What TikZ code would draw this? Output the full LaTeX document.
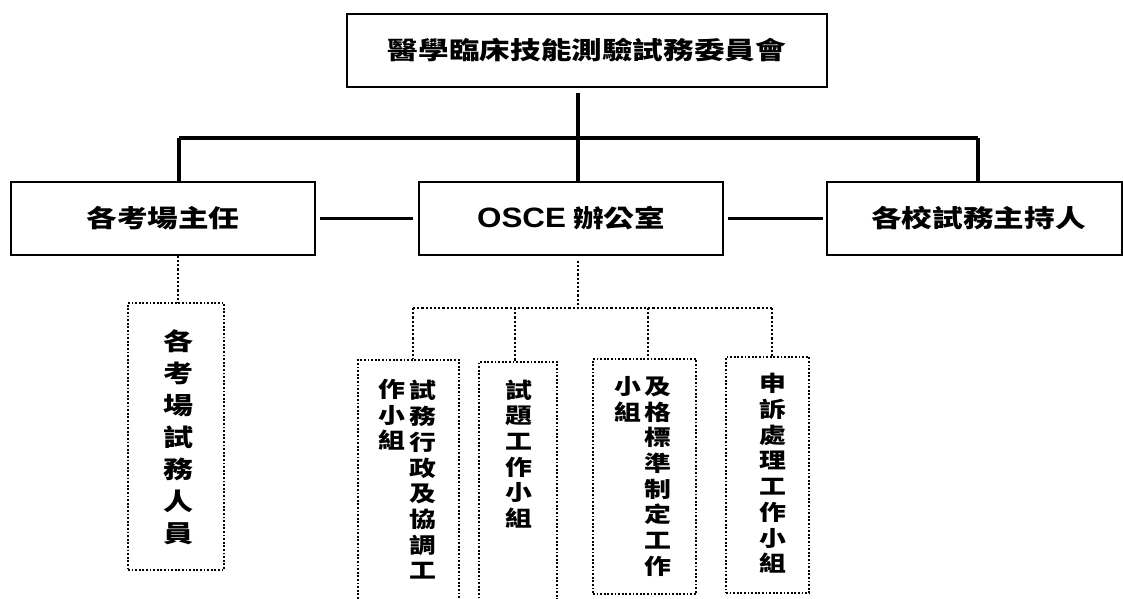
\documentclass[tikz,border=0pt]{standalone}
\usepackage{fontspec}
\setmainfont{Liberation Sans}
\newfontfamily\cjkA{Noto Sans CJK TC Black}[FakeStretch=1.25]
\newfontfamily\latA{Liberation Sans Bold}[FakeStretch=1.12]
\newcommand\fBig{\cjkA\fontsize{24.5}{28}\selectfont}
\newcommand\fVbig{\cjkA\fontsize{24}{32}\selectfont}
\newcommand\fVsm{\cjkA\fontsize{21.5}{25.7}\selectfont}
\tikzset{
  sbox/.style={draw, line width=1.6pt, inner sep=0pt, font=\fBig},
  dbox/.style={draw, line width=1.8pt, dash pattern=on 1.8pt off 1.8pt, inner sep=0pt},
  vbig/.style={align=center, inner sep=0pt, font=\fVbig},
  vsm/.style={align=center, inner sep=0pt, font=\fVsm},
  thickln/.style={line width=3.5pt},
  barln/.style={line width=4.5pt},
  dotln/.style={line width=2.2pt, dash pattern=on 2.2pt off 2pt},
}
\begin{document}
\begin{tikzpicture}[x=1pt,y=-1pt]
\useasboundingbox (0,0) rectangle (1123,598);
\fill[white] (0,0) rectangle (1123,598);
\clip (0,0) rectangle (1123,598);

% solid boxes
\node[sbox, minimum width=480, minimum height=73] (top) at (587,50.5) {醫學臨床技能測驗試務委員會};
\node[sbox, minimum width=304, minimum height=73] (left) at (163,218.5) {各考場主任};
\node[sbox, minimum width=304, minimum height=73] (off) at (571,218.5) {{\latA\fontsize{28}{30}\selectfont OSCE}\ 辦公室};
\node[sbox, minimum width=295, minimum height=73] (right) at (974.5,218.5) {\hspace*{8pt}各校試務主持人};

% junctions
\coordinate (j) at (578,138);
\coordinate (bl) at (179,138);
\coordinate (br) at (978,138);

\draw[thickln] ([yshift=-5pt]top.south -| j) -- (j);
\draw[barln] (bl) -- (br);
\draw[thickln] (bl) -- (bl |- left.north);
\draw[thickln] (j) -- (j |- off.north);
\draw[thickln] (br) -- (br |- right.north);

\draw[thickln, shorten <=4pt, shorten >=5pt] (left.east) -- (off.west);
\draw[thickln, shorten <=4pt, shorten >=3pt] (off.east) -- (right.west);

% dotted boxes
\node[dbox, minimum width=96, minimum height=267] (ld) at (176,436.5) {};
\node[dbox, minimum width=101, minimum height=245] (g1) at (408.5,482.5) {};
\node[dbox, minimum width=78, minimum height=243] (g2) at (518,483.5) {};
\node[dbox, minimum width=103, minimum height=235] (g3) at (644.5,476.5) {};
\node[dbox, minimum width=83, minimum height=236] (g4) at (767.5,475) {};

% texts in dotted boxes
\node[vbig] (tld) at (178,437) {各\\考\\場\\試\\務\\人\\員};
\node[vsm] (t1a) at (423,480) {試\\務\\行\\政\\及\\協\\調\\工};
\node[vsm] (t1b) at (392,415) {作\\小\\組};
\node[vsm] (t2) at (519,454) {試\\題\\工\\作\\小\\組};
\node[vsm] (t3a) at (658,476.5) {及\\格\\標\\準\\制\\定\\工\\作};
\node[vsm] (t3b) at (628,399) {小\\組};
\node[vsm] (t4) at (773,473.5) {申\\訴\\處\\理\\工\\作\\小\\組};

% dotted connectors
\coordinate (dl) at (178,255);
\draw[dotln] (dl |- left.south) -- (dl |- ld.north);

\coordinate (dj) at (578,308);
\coordinate (d1) at (413,308);
\coordinate (d2) at (515,308);
\coordinate (d3) at (648,308);
\coordinate (d4) at (772,308);
\draw[dotln] ([yshift=-5pt]off.south -| dj) -- (dj);
\draw[dotln] (d1) -- (d4);
\draw[dotln] (d1) -- (d1 |- g1.north);
\draw[dotln] (d2) -- (d2 |- g2.north);
\draw[dotln] (d3) -- (d3 |- g3.north);
\draw[dotln] (d4) -- (d4 |- g4.north);
\end{tikzpicture}
\end{document}
